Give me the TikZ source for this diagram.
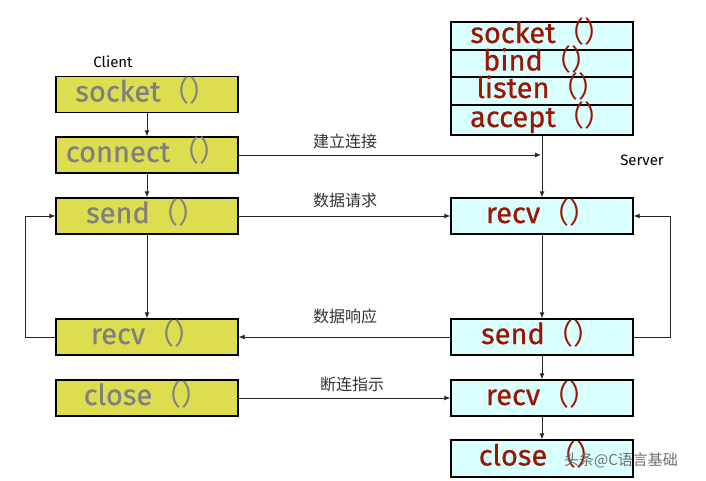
\documentclass[tikz,border=0pt]{standalone}
\usepackage{fontspec}
\setmainfont{Fira Sans}
\newfontfamily\cjk{Noto Sans CJK SC}
\newfontfamily\boldish{Fira Sans}[FakeBold=0.6]
\usetikzlibrary{arrows.meta}
\definecolor{cfill}{RGB}{220,222,80}
\definecolor{sfill}{RGB}{218,255,255}
\definecolor{ctext}{RGB}{128,128,128}
\definecolor{stext}{RGB}{155,22,0}
\definecolor{wmark}{RGB}{110,110,110}
\newcommand{\pp}{{\cjk （）}}
\tikzset{
  fbox/.style={draw=black, line width=1.3pt, minimum width=182pt, inner sep=0pt,
    font=\boldish\fontsize{29}{31}\selectfont, text height=19pt, text depth=5pt},
  cbox/.style={fbox, fill=cfill, text=ctext, minimum height=36pt},
  sbox/.style={fbox, fill=sfill, text=stext, minimum height=36pt},
  arr/.style={draw=black!85, line width=0.9pt, -{Latex[length=6pt,width=5pt]}},
  lbl/.style={font=\cjk\fontsize{16}{18}\selectfont, text=black!80, inner sep=0pt},
  tag/.style={font=\fontsize{15}{17}\selectfont, inner sep=0pt}
}
\begin{document}
\begin{tikzpicture}[x=1pt,y=-1pt]
\useasboundingbox (0,0) rectangle (706,481);
% client
\node[cbox] (csock) at (147,94.5) {socket\pp};
\node[cbox] (cconn) at (147,155) {connect\pp};
\node[cbox] (csend) at (147,216) {send\pp};
\node[cbox] (crecv) at (147,337) {recv\pp};
\node[cbox] (cclose) at (147,398) {close\pp};
\node[tag] (client) at (113,62) {Client};
% server stack
\node[sbox, minimum height=28pt] (ssock) at (542,36) {socket\pp};
\node[sbox, minimum height=27pt] (sbind) at (542,63.5) {bind\pp};
\node[sbox, minimum height=28pt] (slist) at (542,91) {listen\pp};
\node[sbox, minimum height=30pt] (sacc) at (542,120) {accept\pp};
\node[sbox] (srecv) at (542,216) {recv\pp};
\node[sbox] (ssend) at (542,337) {send\pp};
\node[sbox] (srecvb) at (542,398) {recv\pp};
\node[sbox, minimum height=37pt] (sclose) at (542,458.5) {close\pp};
\node[tag] (server) at (642,160) {Server};
\coordinate (hit) at (541,155);
% client connectors
\draw[arr] (csock) -- (cconn);
\draw[arr] (cconn) -- (csend);
\draw[arr] (csend) -- (crecv);
\draw[arr] (crecv.west) -- ++(-30,0) |- (csend.west);
% server connectors
\draw[arr] (sacc) -- (srecv);
\draw[arr] (srecv) -- (ssend);
\draw[arr] (ssend.east) -- ++(37,0) |- (srecv.east);
\draw[arr] (ssend) -- (srecvb);
\draw[arr] (srecvb) -- (sclose);
% cross connectors
\draw[arr] (cconn.east) -- (hit);
\draw[arr] (csend.east) -- (srecv.west);
\draw[arr] (ssend.west) -- (crecv.east);
\draw[arr] (cclose.east) -- (srecvb.west);
\node[lbl] (l1) at (345,141) {建立连接};
\node[lbl] (l2) at (345,200) {数据请求};
\node[lbl] (l3) at (345,316) {数据响应};
\node[lbl] (l4) at (352,384) {断连指示};
\node[font=\cjk\fontsize{15}{17}\selectfont, text=wmark, inner sep=0pt] (wm) at (621,460) {头条@C语言基础};
\end{tikzpicture}
\end{document}
